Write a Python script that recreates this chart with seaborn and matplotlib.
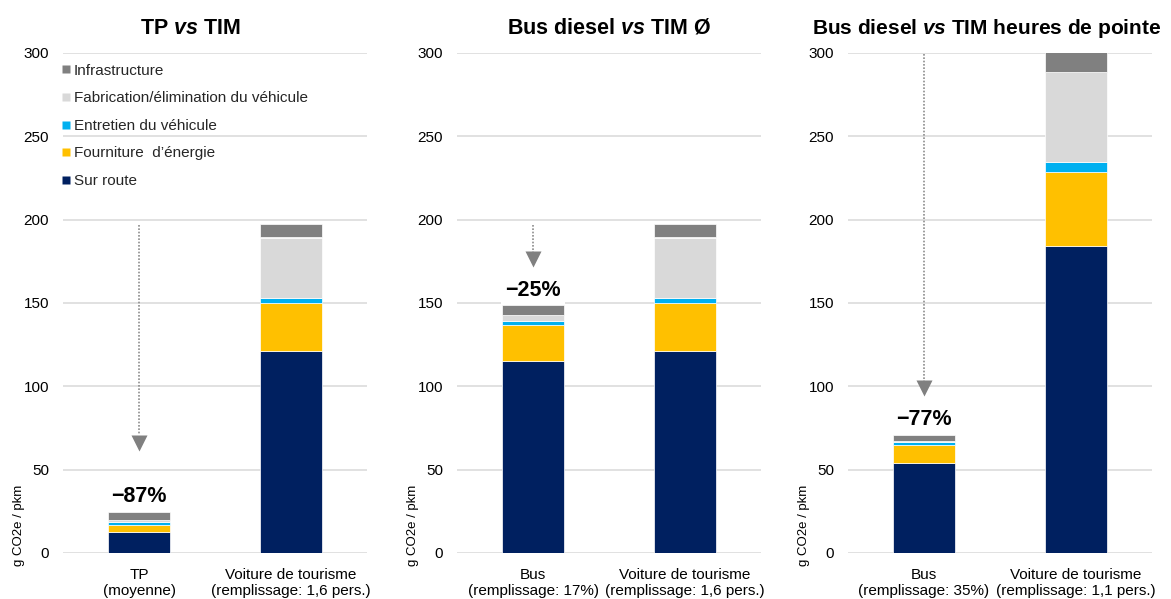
import matplotlib
matplotlib.use("Agg")
import matplotlib.pyplot as plt
import seaborn as sns
import numpy as np
import pandas as pd
from matplotlib.lines import Line2D

sns.set_theme(style="white")
plt.rcParams['font.family'] = ['Liberation Sans', 'DejaVu Sans']
plt.rcParams['mathtext.fontset'] = 'custom'
plt.rcParams['mathtext.rm'] = 'Liberation Sans'
plt.rcParams['mathtext.it'] = 'Liberation Sans:italic'
plt.rcParams['mathtext.bf'] = 'Liberation Sans:bold'
plt.rcParams['mathtext.bfit'] = 'Liberation Sans:italic:bold'

# ---- data ----
components = ["Sur route", "Fourniture  d’énergie", "Entretien du véhicule",
              "Fabrication/élimination du véhicule", "Infrastructure"]
colors = ["#002060", "#FFC000", "#00B0F0", "#D9D9D9", "#808080"]

titles = [r"TP $\mathbfit{vs}$ TIM",
          r"Bus diesel $\mathbfit{vs}$ TIM Ø",
          r"Bus diesel $\mathbfit{vs}$ TIM heures de pointe"]

cats_1 = ["TP\n(moyenne)", "Voiture de tourisme\n(remplissage: 1,6 pers.)"]
cats_2 = ["Bus\n(remplissage: 17%)", "Voiture de tourisme\n(remplissage: 1,6 pers.)"]
cats_3 = ["Bus\n(remplissage: 35%)", "Voiture de tourisme\n(remplissage: 1,1 pers.)"]

# values per component: Sur route, Fourniture, Entretien, Fabrication, Infrastructure
tp_moyenne = [12.4, 4.6, 1.4, 1.2, 5.0]
voiture_16 = [121.0, 29.0, 3.3, 36.0, 8.2]
bus_17 = [115.0, 21.8, 2.2, 4.0, 5.6]
bus_35 = [54.2, 10.8, 1.4, 1.0, 3.6]
voiture_11 = [184.2, 44.4, 5.8, 54.0, 14.0]

reductions = ["−87%", "−25%", "−77%"]
arrow_tips = [61.8, 171.8, 94.4]

y_ticks = [0, 50, 100, 150, 200, 250, 300]

panels = [
    (cats_1, tp_moyenne, voiture_16),
    (cats_2, bus_17, voiture_16),
    (cats_3, bus_35, voiture_11),
]

W, H = 1171, 599
fig = plt.figure(figsize=(W / 100, H / 100), dpi=100)

ax_lefts = [63, 457, 848]
ax_w = 304
ax_top, ax_bot = 53, 553
title_x = [140, 507, 812]
title_size = [15.5, 15.5, 15.0]

grid_col = "#D9D9D9"
for i, (cats, low, high) in enumerate(panels):
    ax = fig.add_axes([ax_lefts[i] / W, (H - ax_bot) / H, ax_w / W, (ax_bot - ax_top) / H])
    ax.set_axisbelow(True)
    bottoms = np.zeros(2)
    for j, comp in enumerate(components):
        vals = np.array([low[j], high[j]])
        df = pd.DataFrame({"cat": cats, "val": vals})
        sns.barplot(data=df, x="cat", y="val", order=cats, color=colors[j],
                    saturation=1, width=0.41, bottom=bottoms, ax=ax,
                    edgecolor="white", linewidth=0.5, errorbar=None)
        bottoms = bottoms + vals
    ax.set_ylim(0, 300)
    ax.set_xlim(-0.5, 1.5)
    ax.set_yticks(y_ticks)
    ax.yaxis.grid(True, color=grid_col, linewidth=1.1)
    ax.xaxis.grid(False)
    for s in ax.spines.values():
        s.set_visible(False)
    ax.tick_params(axis="y", length=0, pad=10, labelsize=11, labelcolor="#000000")
    ax.tick_params(axis="x", length=0, pad=10.5, labelsize=11, labelcolor="#000000")
    for lab in ax.get_xticklabels():
        lab.set_linespacing(1.25)
    ax.set_xlabel("")
    ax.set_ylabel("g CO2e / pkm", fontsize=9.5, color="#000000")
    ax.yaxis.set_label_coords(-38 / ax_w, 0.056)
    ax.yaxis.label.set_va("bottom")

    # reduction label and arrow
    bus_total = bottoms[0]
    car_total = min(bottoms[1], 300)
    ax.annotate(reductions[i], xy=(0, bus_total), xytext=(0, 7),
                textcoords="offset points", ha="center", va="baseline",
                fontsize=15.5, fontweight="bold", color="#000000",
                bbox=dict(boxstyle="square,pad=0.2", fc="white", ec="none"))
    tri_h = 9.0
    ax.plot([0, 0], [car_total - 0.5, arrow_tips[i] + tri_h], color="#8C8C8C",
            lw=1.2, ls=(0, (1, 1)))
    ax.plot([0], [arrow_tips[i] + tri_h / 2], marker="v", ms=11,
            color="#808080", mec="none")

    fig.text(title_x[i] / W, 1 - 28 / H, titles[i], ha="left", va="center",
             fontsize=title_size[i], fontweight="bold", color="#000000")

    if i == 0:
        handles = [Line2D([], [], marker="s", ls="none", ms=6, color=c, mec="none")
                   for c in colors][::-1]
        ax.legend(handles, components[::-1], loc="upper left",
                  bbox_to_anchor=(-0.045, 0.997), frameon=False, fontsize=11,
                  handletextpad=0.0, labelspacing=0.89, handlelength=1.0,
                  borderaxespad=0.2)

fig.savefig("out.png", dpi=100)
